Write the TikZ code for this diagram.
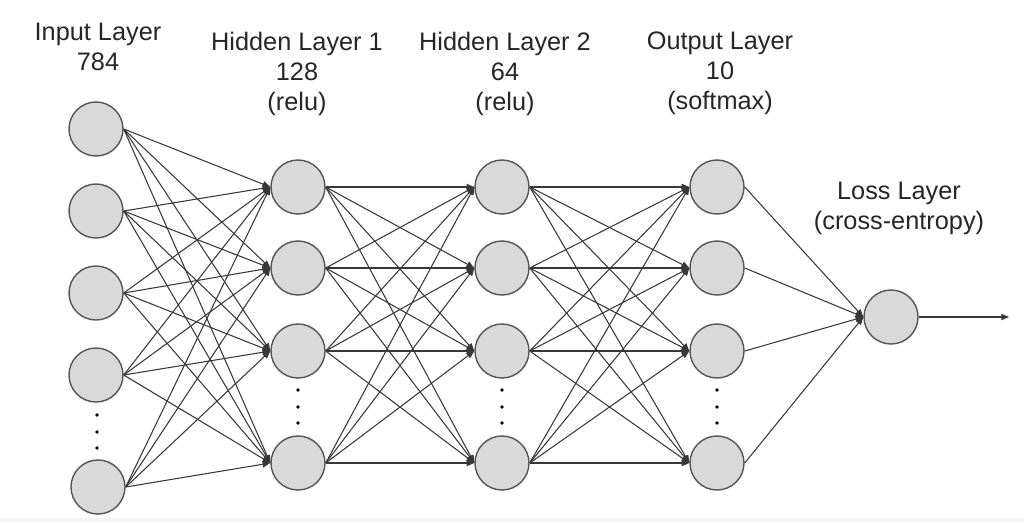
\documentclass[tikz,border=0pt]{standalone}
\usepackage{fontspec}
\setmainfont{Liberation Sans}
\usepackage{tikz}
\usetikzlibrary{arrows.meta,positioning}

\definecolor{unitfill}{HTML}{D9D9D9}
\definecolor{unitline}{HTML}{555555}
\definecolor{edgeline}{HTML}{383838}

\tikzset{
  unit/.style={circle, draw=unitline, fill=unitfill, line width=1pt, minimum size=1.35cm, inner sep=0pt},
  conn/.style={-{Triangle[length=5.5pt,width=4.5pt]}, draw=edgeline, line width=0.75pt},
  layerlabel/.style={anchor=north, align=center, inner sep=0pt, font=\fontsize{18}{21.3}\selectfont, text=black!85},
  vdot/.style={circle, fill=black, inner sep=0pt, minimum size=2.6pt}
}

\begin{document}
\begin{tikzpicture}[x=0.025cm, y=-0.025cm]
\useasboundingbox (0,0) rectangle (1024,522);
\fill[black!4] (0,518) rectangle (1024,522);

% Labels
\node[layerlabel] (lin) at (98,23) {Input Layer\\784};
\node[layerlabel] (lh1) at (297,32) {Hidden Layer 1\\128\\(relu)};
\node[layerlabel] (lh2) at (505,32) {Hidden Layer 2\\64\\(relu)};
\node[layerlabel] (lout) at (720,32) {Output Layer\\10\\(softmax)};
\node[layerlabel] (lloss) at (899,182) {Loss Layer\\(cross-entropy)};

% Input layer
\node[unit] (i1) at (96,129) {};
\node[unit] (i2) at (96,211) {};
\node[unit] (i3) at (96,293) {};
\node[unit] (i4) at (96,375) {};
\node[unit] (i5) at (98,487) {};

% Hidden layer 1
\node[unit] (a1) at (298,187) {};
\node[unit] (a2) at (298,268) {};
\node[unit] (a3) at (298,351) {};
\node[unit] (a4) at (298,463) {};

% Hidden layer 2
\node[unit] (b1) at (502,187) {};
\node[unit] (b2) at (502,268) {};
\node[unit] (b3) at (502,351) {};
\node[unit] (b4) at (502,463) {};

% Output layer
\node[unit] (o1) at (717,187) {};
\node[unit] (o2) at (717,268) {};
\node[unit] (o3) at (717,351) {};
\node[unit] (o4) at (717,463) {};

% Loss layer
\node[unit] (loss) at (891,317) {};
\coordinate (out) at (1009,317);

% Dots
\node[vdot] (di1) at (97,415) {};
\node[vdot] (di2) at (97,432) {};
\node[vdot] (di3) at (97,448) {};
\foreach \l/\x in {a/298, b/502, o/717} {
  \node[vdot] (d\l1) at (\x,390) {};
  \node[vdot] (d\l2) at (\x,407) {};
  \node[vdot] (d\l3) at (\x,423) {};
}

% Connections
\foreach \s in {1,...,5}
  \foreach \t in {1,...,4}
    \draw[conn] (i\s.east) -- (a\t.west);
\foreach \s in {1,...,4}
  \foreach \t in {1,...,4} {
    \draw[conn] (a\s.east) -- (b\t.west);
    \draw[conn] (b\s.east) -- (o\t.west);
  }
\foreach \s in {1,...,4}
  \draw[conn] (o\s.east) -- (loss.west);
\draw[conn] (loss) -- (out);
\end{tikzpicture}
\end{document}
